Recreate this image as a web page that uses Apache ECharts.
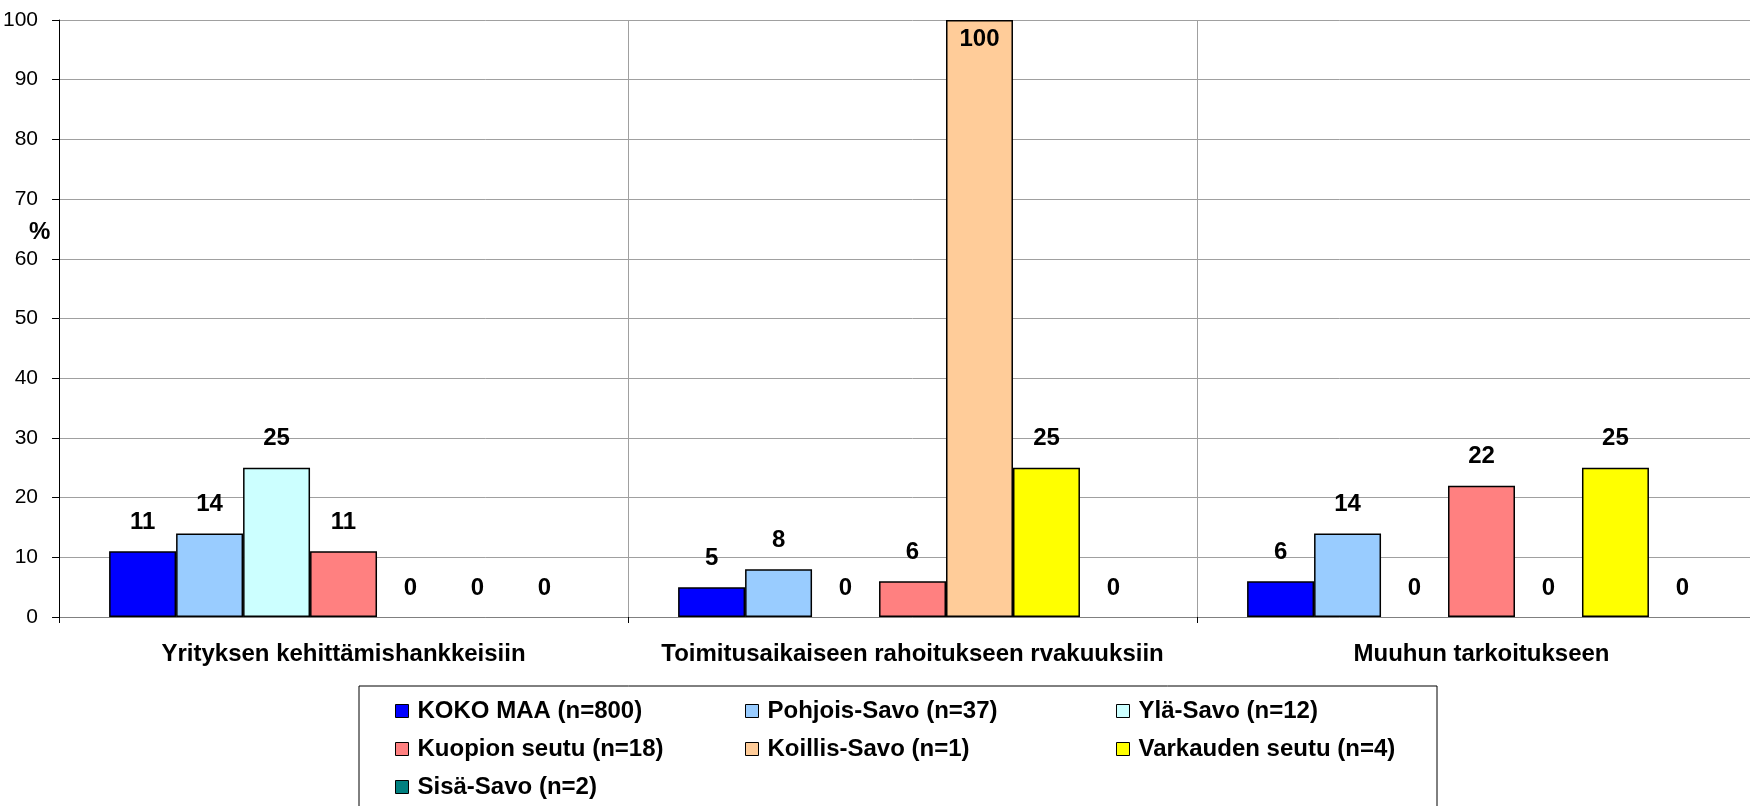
<!DOCTYPE html>
<html>
<head>
<meta charset="utf-8">
<script src="https://cdn.jsdelivr.net/npm/echarts@6/dist/echarts.min.js"></script>
<style>
  html, body { margin: 0; padding: 0; overflow: hidden; background: #fff; }
  #chart { width: 1770px; height: 806px; }
</style>
</head>
<body>
<div id="chart"></div>
<script>
// categories and series
const categories = ['Yrityksen kehittämishankkeisiin', 'Toimitusaikaiseen rahoitukseen rvakuuksiin', 'Muuhun tarkoitukseen']
const seriesNames = ['KOKO MAA (n=800)', 'Pohjois-Savo (n=37)', 'Ylä-Savo (n=12)', 'Kuopion seutu (n=18)', 'Koillis-Savo (n=1)', 'Varkauden seutu (n=4)', 'Sisä-Savo (n=2)']
const kokoMaa = [11, 5, 6]
const pohjoisSavo = [14, 8, 14]
const ylaSavo = [25, 0, 0]
const kuopionSeutu = [11, 6, 22]
const koillisSavo = [0, 100, 0]
const varkaudenSeutu = [0, 25, 25]
const sisaSavo = [0, 0, 0]
const yTicks = [0, 10, 20, 30, 40, 50, 60, 70, 80, 90, 100]

const colors = ['#0000ff', '#99ccff', '#ccffff', '#ff8080', '#ffcc99', '#ffff00', '#008080']
const values = [kokoMaa, pohjoisSavo, ylaSavo, kuopionSeutu, koillisSavo, varkaudenSeutu, sisaSavo]
const font = 'Liberation Sans, Arial, sans-serif'

let myChart = echarts.init(document.getElementById('chart'))

let series = seriesNames.map(function (name, i) {
  return {
    name: name,
    type: 'bar',
    barGap: '0%',
    barCategoryGap: '17.6%',
    data: values[i].map(function (v) {
      // a bar that fills the whole axis gets its label inside
      if (v >= yTicks[yTicks.length - 1]) {
        return { value: v, label: { position: 'insideTop', distance: 7 } }
      }
      // no outline for empty bars
      if (v === 0) {
        return { value: v, itemStyle: { borderWidth: 0 } }
      }
      return v
    }),
    itemStyle: { color: colors[i], borderColor: '#000', borderWidth: 1.5 },
    label: {
      show: true,
      position: 'top',
      distance: 17,
      fontFamily: font,
      fontWeight: 'bold',
      fontSize: 24,
      color: '#000'
    }
  }
})

// legend laid out in three columns like the original
function legendCol (left, names) {
  return {
    orient: 'vertical',
    left: left,
    top: 699,
    padding: 0,
    icon: 'rect',
    itemWidth: 13,
    itemHeight: 13,
    itemGap: 14,
    data: names,
    itemStyle: { borderColor: '#000', borderWidth: 1 },
    textStyle: { fontFamily: font, fontWeight: 'bold', fontSize: 24, color: '#000', padding: [0, 0, 0, 4] }
  }
}

let option = {
  animation: false,
  backgroundColor: '#fff',
  grid: { left: 59, right: 4, top: 20, bottom: 189 },
  legend: [
    legendCol(395, [seriesNames[0], seriesNames[3], seriesNames[6]]),
    legendCol(745, [seriesNames[1], seriesNames[4]]),
    legendCol(1116, [seriesNames[2], seriesNames[5]])
  ],
  graphic: [
    {
      type: 'rect',
      shape: { x: 359, y: 686, width: 1078, height: 140 },
      style: { fill: 'none', stroke: '#000', lineWidth: 1 }
    },
    {
      type: 'text',
      left: 29,
      top: 220,
      style: { text: '%', fontFamily: font, fontWeight: 'bold', fontSize: 24, fill: '#000' }
    }
  ],
  xAxis: {
    type: 'category',
    data: categories,
    axisLine: { lineStyle: { color: '#808080', width: 1 } },
    axisTick: { show: true, interval: 0, length: 6, lineStyle: { color: '#000' } },
    splitLine: { show: true, interval: 0, lineStyle: { color: '#a0a0a0', width: 1 } },
    axisLabel: { interval: 0, margin: 25, fontFamily: font, fontWeight: 'bold', fontSize: 24, color: '#000' }
  },
  yAxis: {
    type: 'value',
    min: 0,
    max: 100,
    interval: 10,
    axisLine: { show: true, lineStyle: { color: '#000', width: 1 } },
    axisTick: { show: true, length: 7, lineStyle: { color: '#000' } },
    splitLine: { show: true, lineStyle: { color: '#a0a0a0', width: 1 } },
    axisLabel: { margin: 21, fontFamily: font, fontSize: 21, color: '#000' }
  },
  series: series
}
myChart.setOption(option)
</script>
</body>
</html>
